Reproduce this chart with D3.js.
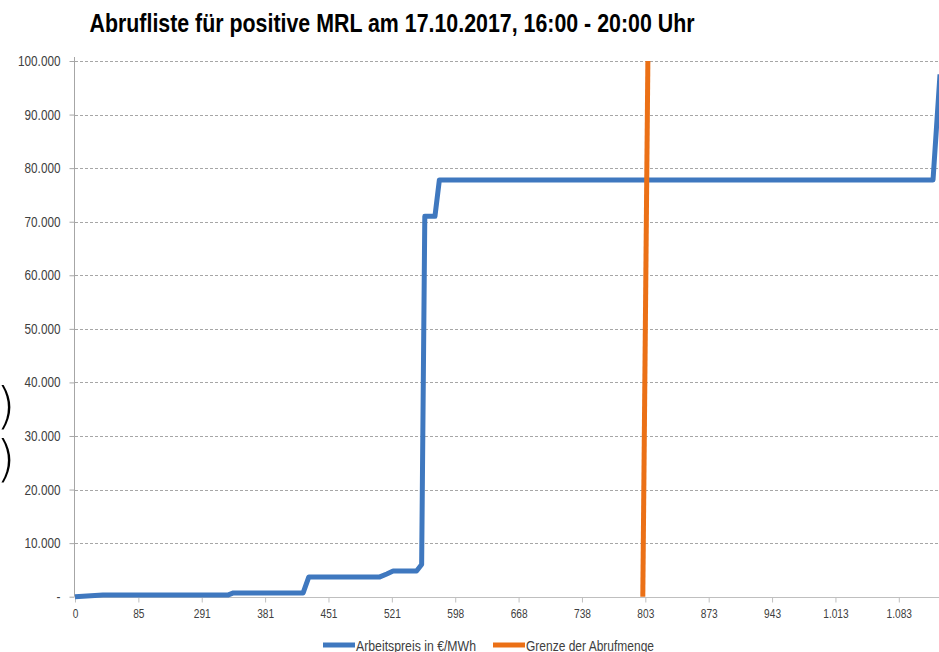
<!DOCTYPE html>
<html>
<head>
<meta charset="utf-8">
<script src="https://cdn.jsdelivr.net/npm/d3@7"></script>
<style>
  html, body { margin: 0; padding: 0; background: #fff; }
  svg { display: block; font-family: "Liberation Sans", Arial, sans-serif; }
</style>
</head>
<body>
<div id="chart"></div>
<script>
// category labels shown every 10th category (cumulative MW)
const xTickLabels = ["0", "85", "291", "381", "451", "521", "598", "668", "738", "803", "873", "943", "1.013", "1.083"];
const yTickValues = [0, 10000, 20000, 30000, 40000, 50000, 60000, 70000, 80000, 90000, 100000];

// Arbeitspreis in €/MWh (category position, price)
const priceIdx = [0, 4.4, 24.1, 25, 36.0, 36.9, 48.1, 49.2, 50.2, 53.9, 54.7, 55.2, 56.8, 57.5, 135.4, 136.5];
const priceVal = [0, 300, 300, 700, 700, 3700, 3700, 4250, 4800, 4800, 6000, 71000, 71000, 77800, 77800, 97500];

// Grenze der Abrufmenge
const limitIdx = [89.6, 90.4];
const limitVal = [0, 100000];

const width = 939, height = 652;
const margin = {left: 75, right: 0, top: 61, bottom: 55};

const svg = d3.select("#chart").append("svg")
  .attr("width", width)
  .attr("height", height);

const x = d3.scaleLinear().domain([0, 136.5]).range([margin.left, width - margin.right + 1]);
const y = d3.scaleLinear().domain([0, 100000]).range([height - margin.bottom - 0.3, margin.top]);

const fmt = v => v === 0 ? "-" : d3.format(",")(v).replace(/,/g, ".");

// no narrow font installed, so squeeze the glyphs
function narrow(sel, f) {
  sel.each(function() {
    const w = this.getComputedTextLength();
    d3.select(this).attr("textLength", w * f).attr("lengthAdjust", "spacingAndGlyphs");
  });
}

svg.append("text")
  .attr("x", 392)
  .attr("y", 32)
  .attr("text-anchor", "middle")
  .attr("font-size", 26)
  .attr("font-weight", "bold")
  .attr("fill", "#000")
  .attr("textLength", 605)
  .attr("lengthAdjust", "spacingAndGlyphs")
  .text("Abrufliste für positive MRL am 17.10.2017, 16:00 - 20:00 Uhr");

// gridlines
svg.append("g")
  .selectAll("line")
  .data(yTickValues.slice(1))
  .join("line")
  .attr("x1", margin.left)
  .attr("x2", width)
  .attr("y1", d => Math.round(y(d)) + 0.5)
  .attr("y2", d => Math.round(y(d)) + 0.5)
  .attr("stroke", "#a6a6a6")
  .attr("stroke-dasharray", "3,2");

// y axis
const yAxis = svg.append("g")
  .attr("transform", `translate(${margin.left - 0.5},0)`)
  .call(d3.axisLeft(y).tickValues(yTickValues).tickFormat(fmt).tickSize(5).tickPadding(9));
yAxis.select(".domain").attr("stroke", "#a6a6a6").attr("d", `M0,${y(0)}V${y(100000) - 4}`);
yAxis.selectAll(".tick line").attr("stroke", "#a6a6a6");
yAxis.selectAll(".tick text").attr("font-size", 14).attr("fill", "#404040").attr("font-family", null)
  .call(narrow, 0.84);

// x axis
const xAxis = svg.append("g")
  .attr("transform", `translate(0,${Math.round(y(0)) + 0.5})`)
  .call(d3.axisBottom(x).tickValues(d3.range(xTickLabels.length).map(i => i * 10))
    .tickFormat((d, i) => xTickLabels[i]).tickSize(5).tickPadding(6));
xAxis.select(".domain").attr("stroke", "#bfbfbf").attr("d", `M${margin.left},0H${width}`);
xAxis.selectAll(".tick line").attr("stroke", "#bfbfbf");
xAxis.selectAll(".tick text").attr("font-size", 13).attr("fill", "#404040").attr("font-family", null)
  .call(narrow, 0.78);

const line = d3.line().x(d => x(d[0])).y(d => y(d[1]));

svg.append("path")
  .datum(priceIdx.map((d, i) => [d, priceVal[i]]))
  .attr("d", line)
  .attr("fill", "none")
  .attr("stroke", "#3f78bf")
  .attr("stroke-width", 5)
  .attr("stroke-linejoin", "round");

svg.append("path")
  .datum(limitIdx.map((d, i) => [d, limitVal[i]]))
  .attr("d", line)
  .attr("fill", "none")
  .attr("stroke", "#eb7016")
  .attr("stroke-width", 5);

// legend
const legend = [
  {label: "Arbeitspreis in €/MWh", color: "#3f78bf", x: 323, w: 120},
  {label: "Grenze der Abrufmenge", color: "#eb7016", x: 493, w: 128}
];
const lg = svg.append("g").selectAll("g").data(legend).join("g")
  .attr("transform", d => `translate(${d.x},645)`);
lg.append("line").attr("x1", 0).attr("x2", 32).attr("stroke", d => d.color).attr("stroke-width", 5);
lg.append("text").attr("x", 33).attr("y", 6).attr("font-size", 14).attr("fill", "#404040")
  .attr("textLength", d => d.w).attr("lengthAdjust", "spacingAndGlyphs")
  .text(d => d.label);

// cut-off brackets at the left edge
svg.append("g").selectAll("text").data([423, 476]).join("text")
  .attr("x", -4).attr("y", d => d)
  .attr("font-size", 50)
  .attr("font-family", "DejaVu Sans")
  .attr("font-weight", 300)
  .text(")");
</script>
</body>
</html>
